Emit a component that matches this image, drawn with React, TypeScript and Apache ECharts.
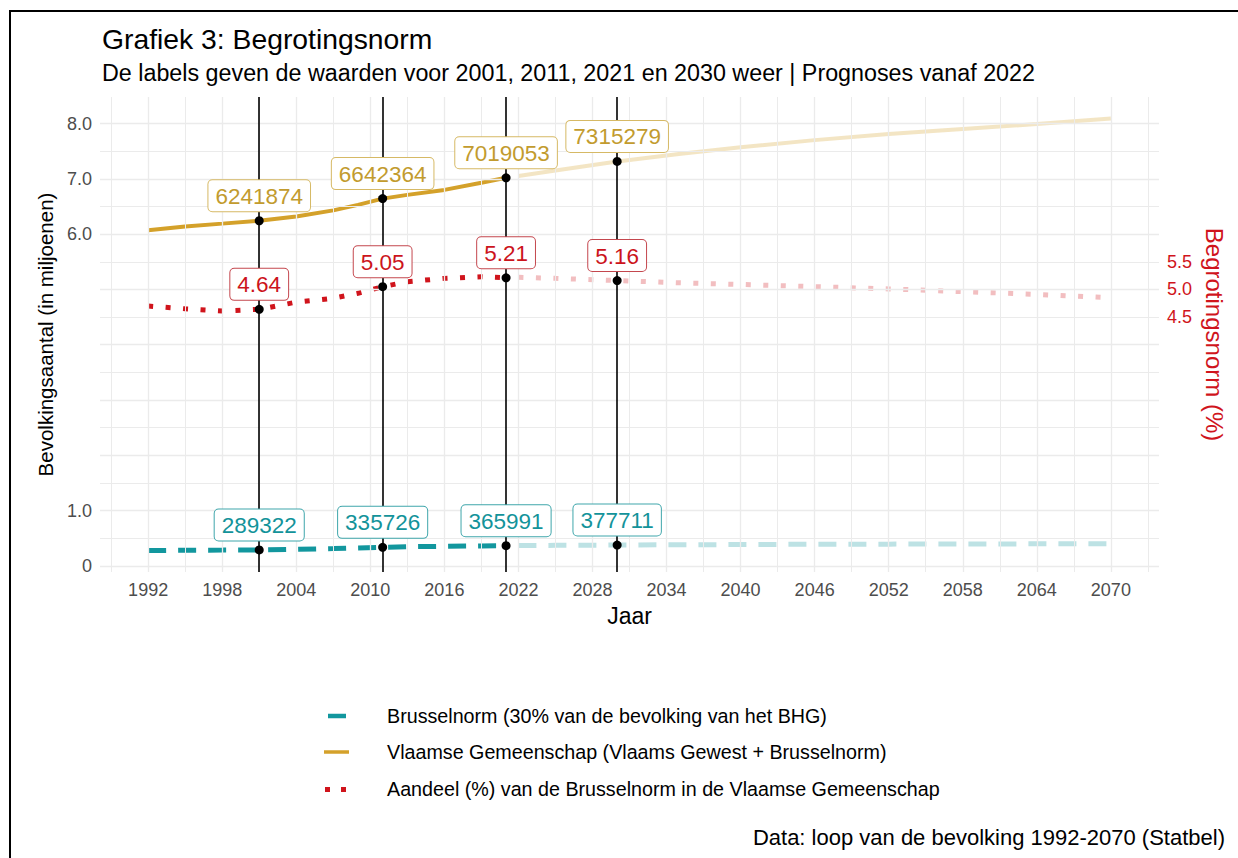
import React, { useEffect, useRef } from "react";
import * as echarts from "echarts";

// ---- data ----
const histYears = [1992, 1995, 1998, 2001, 2004, 2007, 2009, 2011, 2013, 2016, 2019, 2021];
const fcYears = [2022, 2025, 2030, 2035, 2040, 2046, 2052, 2058, 2064, 2070];
const vgHist = [6.07, 6.14, 6.19, 6.242, 6.32, 6.43, 6.53, 6.642, 6.71, 6.8, 6.93, 7.019];
const vgFc = [7.05, 7.15, 7.315, 7.45, 7.57, 7.7, 7.81, 7.9, 7.99, 8.09];
const bnHist = [0.277, 0.284, 0.286, 0.289, 0.3, 0.313, 0.325, 0.336, 0.347, 0.355, 0.362, 0.366];
const bnFc = [0.368, 0.372, 0.378, 0.382, 0.387, 0.391, 0.394, 0.397, 0.399, 0.401];
const pctHist = [4.7, 4.65, 4.61, 4.64, 4.77, 4.84, 4.93, 5.05, 5.14, 5.2, 5.23, 5.21];
const pctFc = [5.22, 5.2, 5.16, 5.12, 5.09, 5.05, 5.01, 4.96, 4.91, 4.85];

const labelYears = [2001, 2011, 2021, 2030];
const vgLabels = [6241874, 6642364, 7019053, 7315279];
const bnLabels = [289322, 335726, 365991, 377711];
const pctLabels = [4.64, 5.05, 5.21, 5.16];

const xTicks = [1992, 1998, 2004, 2010, 2016, 2022, 2028, 2034, 2040, 2046, 2052, 2058, 2064, 2070];
const yTicksLeft = [0, 1, 6, 7, 8];
const yTicksRight = [4.5, 5, 5.5];
const hGrid = [0, 0.5, 1, 1.5, 2, 2.5, 3, 3.5, 4, 4.5, 5, 5.5, 6, 6.5, 7, 7.5, 8];
const vGrid = [1989, 1992, 1995, 1998, 2001, 2004, 2007, 2010, 2013, 2016, 2019, 2022, 2025, 2028, 2031, 2034, 2037, 2040, 2043, 2046, 2049, 2052, 2055, 2058, 2061, 2064, 2067, 2070, 2073];

const legendItems = [
  "Brusselnorm (30% van de bevolking van het BHG)",
  "Vlaamse Gemeenschap (Vlaams Gewest + Brusselnorm)",
  "Aandeel (%) van de Brusselnorm in de Vlaamse Gemeenschap",
];

const GOLD = "#D4A12A";
const TEAL = "#12979E";
const RED = "#D0141C";
const FONT = "'Liberation Sans', Arial, sans-serif";

const X_MIN = 1988.1;
const X_MAX = 2073.9;
const Y_MIN = -0.11;
const Y_MAX = 8.48;

function pairs(xs: number[], ys: number[]) {
  return xs.map((x, i) => [x, ys[i]]);
}

function labelCfg(color: string, border: string) {
  return {
    show: true,
    position: "top",
    distance: 5,
    fontSize: 22.5,
    lineHeight: 24,
    color,
    backgroundColor: "#ffffff",
    borderColor: border,
    borderWidth: 1,
    borderRadius: 4,
    padding: [4, 7, 3, 7],
    fontFamily: FONT,
  };
}

export default function App() {
  const ref = useRef<HTMLDivElement>(null);

  useEffect(() => {
    if (!ref.current) return;
    const chart = echarts.init(ref.current, null, { renderer: "svg" });

    const gridLine = (major: boolean) => ({ color: "#EBEBEB", width: major ? 1.3 : 1, type: "solid" });

    const option: any = {
      animation: false,
      backgroundColor: "#ffffff",
      textStyle: { fontFamily: FONT },
      title: {
        left: 102,
        top: 24,
        padding: 0,
        text: "Grafiek 3: Begrotingsnorm",
        subtext: "De labels geven de waarden voor 2001, 2011, 2021 en 2030 weer | Prognoses vanaf 2022",
        itemGap: 6,
        textStyle: { fontSize: 28.3, lineHeight: 30, fontWeight: "normal", color: "#000", fontFamily: FONT },
        subtextStyle: { fontSize: 23.3, lineHeight: 26, color: "#000", fontFamily: FONT },
      },
      grid: { left: 100, right: 79, top: 97, bottom: 286, containLabel: false },
      xAxis: {
        type: "value",
        min: X_MIN,
        max: X_MAX,
        axisLine: { show: false },
        axisTick: { show: false },
        splitLine: { show: false },
        axisLabel: {
          customValues: xTicks,
          formatter: (v: number) => String(v),
          fontSize: 18,
          color: "#4D4D4D",
          margin: 9,
          fontFamily: FONT,
        },
        name: "Jaar",
        nameLocation: "middle",
        nameGap: 32,
        nameTextStyle: { fontSize: 23, color: "#000", fontFamily: FONT, verticalAlign: "top" },
      },
      yAxis: [
        {
          type: "value",
          min: Y_MIN,
          max: Y_MAX,
          position: "left",
          axisLine: { show: false },
          axisTick: { show: false },
          splitLine: { show: false },
          axisLabel: {
            customValues: yTicksLeft,
            formatter: (v: number) => (v === 0 ? "0" : v.toFixed(1)),
            fontSize: 18,
            color: "#4D4D4D",
            margin: 8,
            fontFamily: FONT,
          },
          name: "Bevolkingsaantal (in miljoenen)",
          nameLocation: "middle",
          nameRotate: 90,
          nameGap: 44,
          nameTextStyle: { fontSize: 20.5, color: "#000", fontFamily: FONT },
        },
        {
          type: "value",
          min: Y_MIN,
          max: Y_MAX,
          position: "right",
          axisLine: { show: false },
          axisTick: { show: false },
          splitLine: { show: false },
          axisLabel: {
            customValues: yTicksRight,
            formatter: (v: number) => v.toFixed(1),
            fontSize: 18,
            color: RED,
            margin: 8,
            fontFamily: FONT,
          },
          name: "Begrotingsnorm (%)",
          nameLocation: "middle",
          nameRotate: -90,
          nameGap: 31,
          nameTextStyle: { fontSize: 24, color: RED, fontFamily: FONT },
        },
      ],
      graphic: [
        {
          type: "rect",
          shape: { x: 10, y: 11, width: 1240, height: 860 },
          style: { fill: "none", stroke: "#000", lineWidth: 2 },
          silent: true,
        },
        // legend keys
        {
          type: "line",
          shape: { x1: 328, y1: 716, x2: 346, y2: 716 },
          style: { stroke: TEAL, lineWidth: 4.5 },
        },
        {
          type: "line",
          shape: { x1: 324, y1: 752, x2: 349, y2: 752 },
          style: { stroke: GOLD, lineWidth: 3.5 },
        },
        { type: "rect", shape: { x: 325, y: 787, width: 5, height: 5 }, style: { fill: RED } },
        { type: "rect", shape: { x: 341, y: 787, width: 5, height: 5 }, style: { fill: RED } },
        ...legendItems.map((t, i) => ({
          type: "text",
          x: 387,
          y: [716, 752, 789][i],
          style: {
            text: t,
            fontSize: 19.7,
            fill: "#000",
            fontFamily: FONT,
            verticalAlign: "middle",
            align: "left",
          },
        })),
        {
          type: "text",
          x: 1225,
          y: 837,
          style: {
            text: "Data: loop van de bevolking 1992-2070 (Statbel)",
            fontSize: 22,
            fill: "#000",
            fontFamily: FONT,
            align: "right",
            verticalAlign: "middle",
          },
        },
      ],
      series: [
        {
          name: "grid",
          type: "line",
          data: [[X_MIN, Y_MIN]],
          symbol: "none",
          lineStyle: { opacity: 0 },
          silent: true,
          z: 0,
          markLine: {
            silent: true,
            symbol: ["none", "none"],
            label: { show: false },
            animation: false,
            data: [
              ...hGrid.map((v) => ({ yAxis: v, lineStyle: gridLine(Number.isInteger(v)) })),
              ...vGrid.map((v) => ({ xAxis: v, lineStyle: gridLine((v - 1992) % 6 === 0) })),
            ],
          },
        },
        {
          name: "vlines",
          type: "line",
          data: [[X_MIN, Y_MIN]],
          symbol: "none",
          lineStyle: { opacity: 0 },
          silent: true,
          z: 1,
          markLine: {
            silent: true,
            symbol: ["none", "none"],
            label: { show: false },
            animation: false,
            lineStyle: { color: "#000", width: 1.6, type: "solid" },
            data: labelYears.map((y) => ({ xAxis: y })),
          },
        },
        // Brusselnorm
        {
          name: legendItems[0],
          type: "line",
          data: pairs(histYears, bnHist),
          symbol: "none",
          z: 2,
          lineStyle: { color: TEAL, width: 5, type: [18, 12], cap: "butt" },
        },
        {
          name: legendItems[0] + " (prognose)",
          type: "line",
          data: pairs(fcYears, bnFc),
          symbol: "none",
          z: 2,
          lineStyle: { color: TEAL, width: 5, type: [18, 12], cap: "butt", opacity: 0.28 },
        },
        // Vlaamse Gemeenschap
        {
          name: legendItems[1],
          type: "line",
          data: pairs(histYears, vgHist),
          symbol: "none",
          z: 2,
          lineStyle: { color: GOLD, width: 4 },
        },
        {
          name: legendItems[1] + " (prognose)",
          type: "line",
          data: pairs(fcYears, vgFc),
          symbol: "none",
          z: 2,
          lineStyle: { color: GOLD, width: 4, opacity: 0.28 },
        },
        // Aandeel
        {
          name: legendItems[2],
          type: "line",
          data: pairs(histYears, pctHist),
          symbol: "none",
          z: 2,
          lineStyle: { color: RED, width: 5, type: [5, 12.5], cap: "butt" },
        },
        {
          name: legendItems[2] + " (prognose)",
          type: "line",
          data: pairs(fcYears, pctFc),
          symbol: "none",
          z: 2,
          lineStyle: { color: RED, width: 5, type: [5, 12.5], cap: "butt", opacity: 0.28 },
        },
        // points + labels
        {
          name: "labels-vg",
          type: "scatter",
          z: 5,
          symbolSize: 9,
          itemStyle: { color: "#000", opacity: 1 },
          data: labelYears.map((y, i) => [y, vgLabels[i] / 1e6]),
          label: { ...labelCfg("#C29B2E", "#D6B965"), formatter: (p: any) => String(vgLabels[p.dataIndex]) },
        },
        {
          name: "labels-bn",
          type: "scatter",
          z: 5,
          symbolSize: 9,
          itemStyle: { color: "#000", opacity: 1 },
          data: labelYears.map((y, i) => [y, bnLabels[i] / 1e6]),
          label: { ...labelCfg("#13939A", "#3FA6AB"), formatter: (p: any) => String(bnLabels[p.dataIndex]) },
        },
        {
          name: "labels-pct",
          type: "scatter",
          z: 5,
          symbolSize: 9,
          itemStyle: { color: "#000", opacity: 1 },
          data: labelYears.map((y, i) => [y, pctLabels[i]]),
          label: { ...labelCfg("#CC141C", "#C4474E"), formatter: (p: any) => pctLabels[p.dataIndex].toFixed(2) },
        },
      ],
    };

    chart.setOption(option);
    return () => chart.dispose();
  }, []);

  return (
    <div
      ref={ref}
      style={{ position: "absolute", left: 0, top: 0, width: 1238, height: 858, background: "#fff" }}
    />
  );
}
